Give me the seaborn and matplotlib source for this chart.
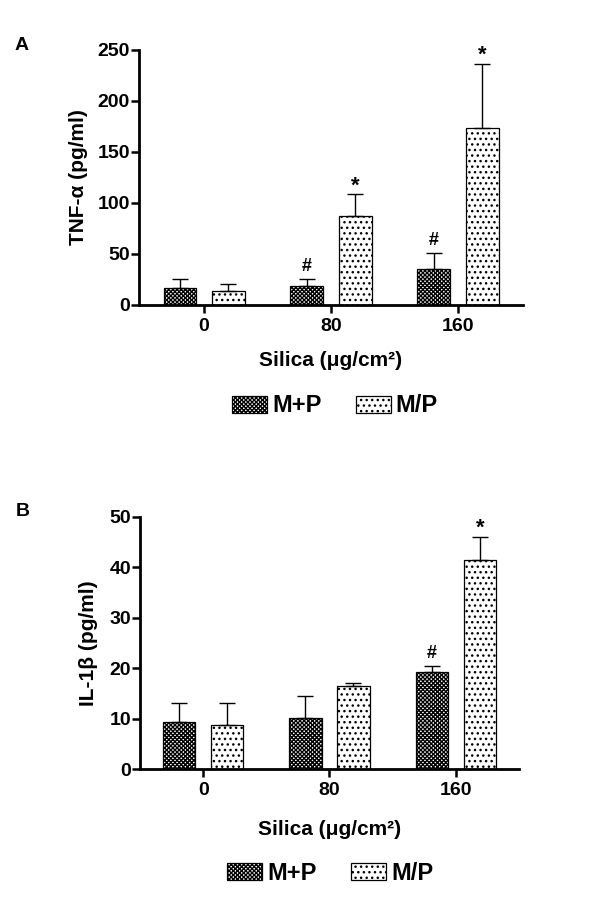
import matplotlib
matplotlib.use("Agg")
import matplotlib.pyplot as plt
import seaborn as sns
import pandas as pd
import numpy as np
from matplotlib.patches import Patch

sns.set_style("white")
plt.rcParams['font.family'] = ['Liberation Sans', 'DejaVu Sans']
plt.rcParams['font.weight'] = 'bold'
plt.rcParams['hatch.linewidth'] = 1.0
for k in ['text.color', 'axes.labelcolor', 'xtick.color', 'ytick.color', 'axes.edgecolor']:
    plt.rcParams[k] = 'black'

# ---------------- data ----------------
doses = ["0", "80", "160"]
groups = ["M+P", "M/P"]

tnf_mp = [16.4, 18.6, 35.3]
tnf_mp_err = [8.6, 6.5, 15.4]
tnf_ms = [14.0, 87.0, 173.8]
tnf_ms_err = [7.0, 21.5, 62.5]

il_mp = [9.3, 10.2, 19.3]
il_mp_err = [3.9, 4.3, 1.1]
il_ms = [8.8, 16.4, 41.4]
il_ms_err = [4.4, 0.6, 4.6]

tnf_marks_mp = ["", "#", "#"]
tnf_marks_ms = ["", "*", "*"]
il_marks_mp = ["", "", "#"]
il_marks_ms = ["", "", "*"]

hatches = {"M+P": "xxxxxxxx", "M/P": "..."}

fig = plt.figure(figsize=(6, 9.18), dpi=100)


def panel(rect, mp, mp_err, ms, ms_err, marks_mp, marks_ms, ylabel, ymax, ystep,
          xlim, ylab_x, xlab_y, leg_xy, letter, letter_xy):
    ax = fig.add_axes(rect)
    df = pd.DataFrame({
        "dose": doses * 2,
        "group": [groups[0]] * 3 + [groups[1]] * 3,
        "value": list(mp) + list(ms),
    })
    sns.barplot(data=df, x="dose", y="value", hue="group", order=doses,
                hue_order=groups, width=0.76, gap=0.32, errorbar=None,
                palette=["white", "white"], edgecolor="black", linewidth=0.9,
                legend=False, ax=ax)
    errs = [mp_err, ms_err]
    vals = [mp, ms]
    marks = [marks_mp, marks_ms]
    bar_conts = list(ax.containers)
    for gi, cont in enumerate(bar_conts):
        xs = [p.get_x() + p.get_width() / 2 for p in cont.patches]
        for p in cont.patches:
            p.set_hatch(hatches[groups[gi]])
            p.set_edgecolor("black")
        ax.errorbar(xs, vals[gi], yerr=[np.zeros(3), errs[gi]], fmt="none",
                    ecolor="black", elinewidth=1.0, capsize=5.5, capthick=1.0,
                    zorder=1)
        for x, v, e, m in zip(xs, vals[gi], errs[gi], marks[gi]):
            if m:
                off = 6 if m == "#" else 2
                ax.annotate(m, (x, v + e), xytext=(0, off), textcoords="offset points",
                            ha="center", va="baseline", fontsize=13 if m == "#" else 16,
                            fontweight="bold")
    ax.set_xlim(*xlim)
    ax.set_ylim(0, ymax)
    ax.set_yticks(np.arange(0, ymax + 0.01, ystep))
    ax.set_yticklabels([f"{int(t)}" for t in np.arange(0, ymax + 0.01, ystep)])
    sns.despine(ax=ax)
    for s in ["left", "bottom"]:
        ax.spines[s].set_linewidth(2.0)
        ax.spines[s].set_color("black")
    ax.tick_params(axis="both", which="major", direction="out", length=5.5,
                   width=1.8, color="black", labelcolor="black", labelsize=14,
                   bottom=True, left=True)
    ax.tick_params(axis="y", pad=1)
    ax.tick_params(axis="x", pad=4)
    for t in ax.get_xticklabels() + ax.get_yticklabels():
        t.set_fontweight("bold")
    ax.set_ylabel(ylabel, fontsize=15, fontweight="bold", color="black")
    ax.set_xlabel("Silica (μg/cm²)", fontsize=15, fontweight="bold", color="black")
    ax.yaxis.set_label_coords(ylab_x, 0.5)
    ax.xaxis.set_label_coords(0.5, xlab_y)
    handles = [Patch(facecolor="white", edgecolor="black", hatch=hatches[g],
                     linewidth=0.9, label=g) for g in groups]
    fig.legend(handles=handles, loc="center", bbox_to_anchor=leg_xy, ncol=2,
               frameon=False, prop={"size": 17, "weight": "bold"},
               handlelength=1.5, handleheight=0.75, handletextpad=0.2,
               columnspacing=1.45)
    fig.text(letter_xy[0], letter_xy[1], letter, fontsize=14, fontweight="bold",
             ha="left", va="center", color="black")
    return ax


panel([0.2317, 0.6678, 0.64, 0.2778], tnf_mp, tnf_mp_err, tnf_ms, tnf_ms_err,
      tnf_marks_mp, tnf_marks_ms, "TNF-α (pg/ml)", 250, 50, (-0.512, 2.512),
      -0.133, -0.18, (0.558, 1 - 406 / 918), "A", (0.025, 1 - 45 / 918))

panel([0.2333, 0.1620, 0.6317, 0.2751], il_mp, il_mp_err, il_ms, il_ms_err,
      il_marks_mp, il_marks_ms, "IL-1β (pg/ml)", 50, 10, (-0.5, 2.5),
      -0.111, -0.2, (0.55, 1 - 873 / 918), "B", (0.026, 1 - 512 / 918))

fig.savefig("out.png", dpi=100)
